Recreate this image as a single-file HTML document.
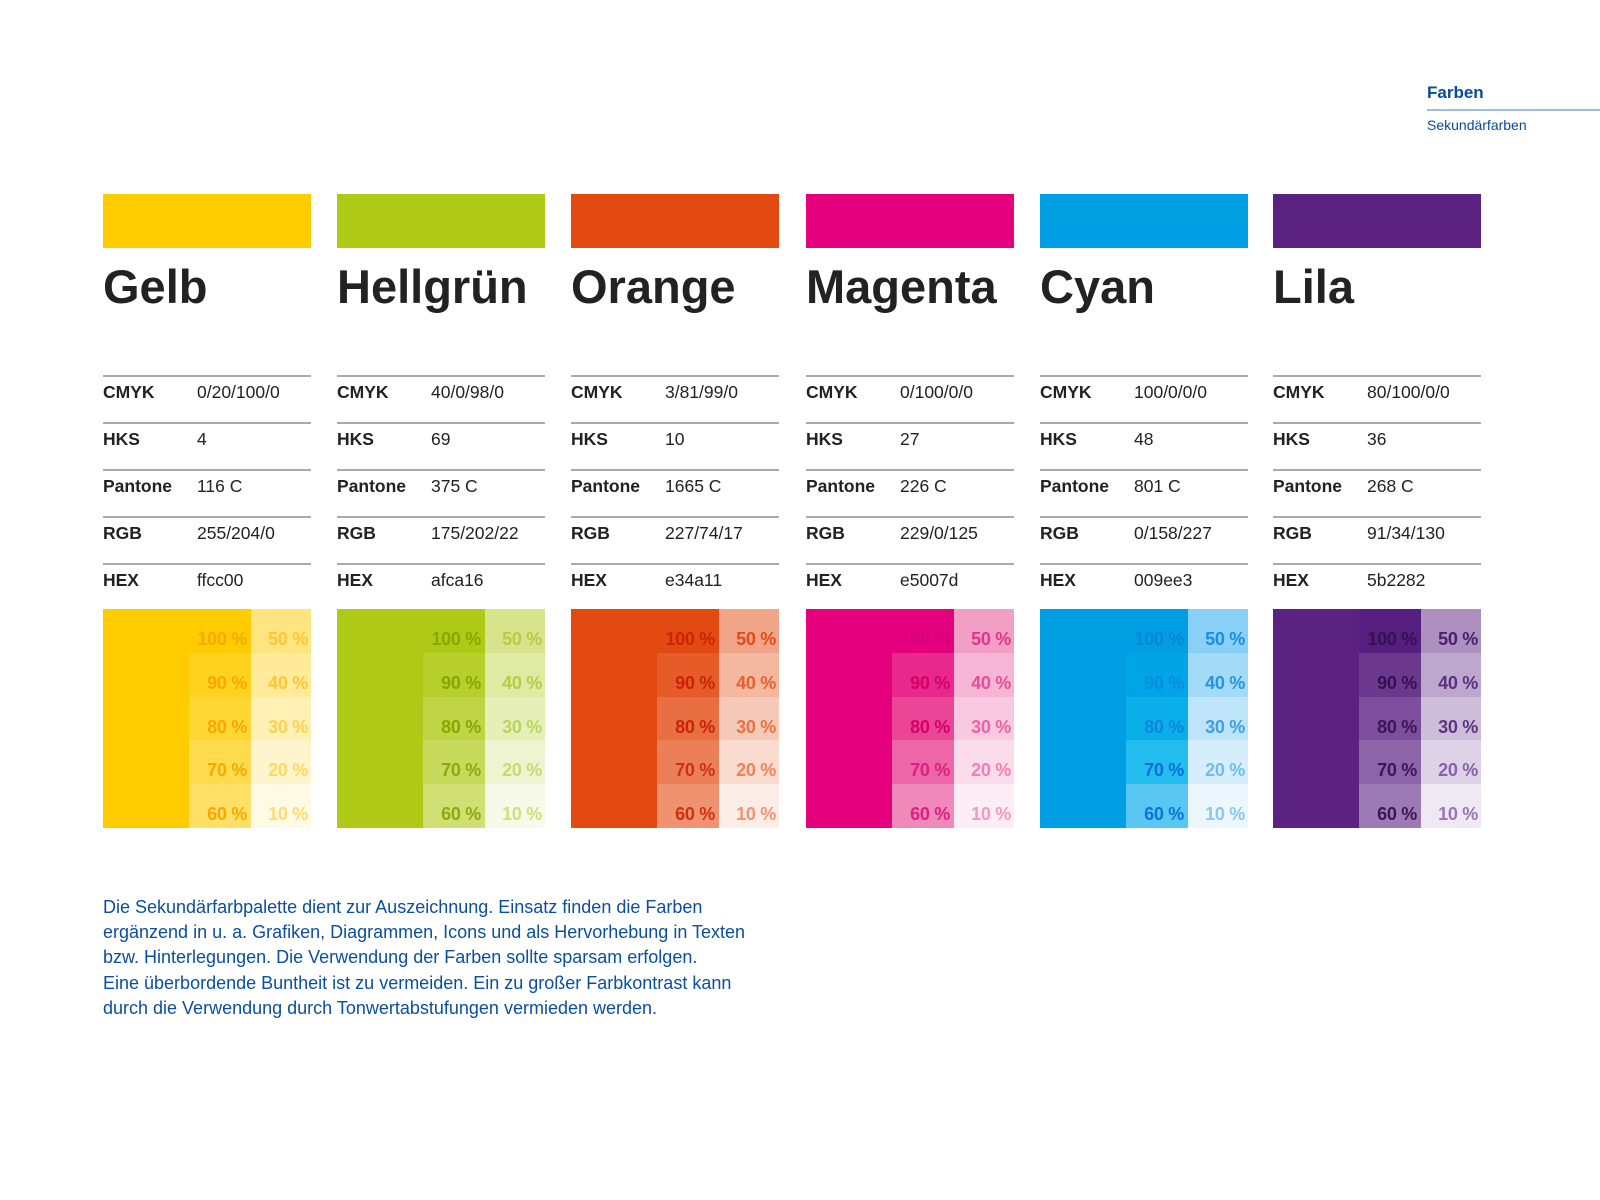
<!DOCTYPE html>
<html><head><meta charset="utf-8">
<style>
*{margin:0;padding:0;box-sizing:border-box}
html,body{width:1600px;height:1200px;background:#fff;overflow:hidden;font-family:"Liberation Sans",sans-serif}
.hdr1{position:absolute;left:1427px;top:83px;font-size:17px;font-weight:bold;color:#0a4a9a}
.hline{position:absolute;left:1427px;top:109px;width:173px;height:2px;background:#9fbde0}
.hdr2{position:absolute;left:1427px;top:117px;font-size:14px;color:#0a4a9a}
.col{position:absolute;top:0;width:208px}
.bar{position:absolute;top:194px;left:0;width:208px;height:54px}
.title{position:absolute;top:262px;left:0;font-size:47px;line-height:50px;font-weight:bold;color:#222;white-space:nowrap}
.tbl{position:absolute;top:375px;left:0;width:208px}
.row{border-top:2px solid #aaa;height:47px;font-size:17.5px;line-height:30px;color:#222;position:relative}
.row b{position:absolute;left:0}
.row span{position:absolute;left:94px}
.sw{position:absolute;top:609px;left:0;width:208px;height:219px}
.a{position:absolute;left:0;top:0;width:86px;height:219px}
.c{position:absolute;height:43.8px;font-size:18px;font-weight:bold;text-align:right;padding-right:4px;line-height:43.8px;padding-top:9px;letter-spacing:-0.3px;overflow:visible}
.b{left:86px;width:62px}
.d{left:148px;width:60px;padding-right:3px}
.para{position:absolute;left:103px;top:895px;font-size:18px;line-height:25.2px;color:#0a4fa0}
</style></head><body>
<div class="hdr1">Farben</div><div class="hline"></div><div class="hdr2">Sekundärfarben</div>

<!-- Gelb -->
<div class="col" style="left:103px">
<div class="bar" style="background:#ffcc00"></div>
<div class="title">Gelb</div>
<div class="tbl">
<div class="row"><b>CMYK</b><span>0/20/100/0</span></div>
<div class="row"><b>HKS</b><span>4</span></div>
<div class="row"><b>Pantone</b><span>116 C</span></div>
<div class="row"><b>RGB</b><span>255/204/0</span></div>
<div class="row"><b>HEX</b><span>ffcc00</span></div>
</div>
<div class="sw">
<div class="a" style="background:#ffcc00"></div>
<div class="c b" style="top:0;background:#ffcc00;color:#f9a800">100 %</div>
<div class="c b" style="top:43.8px;background:#ffd21f;color:#f9a800">90 %</div>
<div class="c b" style="top:87.6px;background:#ffd633;color:#f9a800">80 %</div>
<div class="c b" style="top:131.4px;background:#ffdb4d;color:#f9a800">70 %</div>
<div class="c b" style="top:175.2px;background:#ffe066;color:#f9a800">60 %</div>
<div class="c d" style="top:0;background:#ffe580;color:#ffc535">50 %</div>
<div class="c d" style="top:43.8px;background:#ffeb99;color:#ffc535">40 %</div>
<div class="c d" style="top:87.6px;background:#fff0b3;color:#ffd050">30 %</div>
<div class="c d" style="top:131.4px;background:#fff5cc;color:#ffd860">20 %</div>
<div class="c d" style="top:175.2px;background:#fffae6;color:#ffdc70">10 %</div>
</div></div>

<!-- Hellgrün -->
<div class="col" style="left:337px">
<div class="bar" style="background:#afca16"></div>
<div class="title">Hellgrün</div>
<div class="tbl">
<div class="row"><b>CMYK</b><span>40/0/98/0</span></div>
<div class="row"><b>HKS</b><span>69</span></div>
<div class="row"><b>Pantone</b><span>375 C</span></div>
<div class="row"><b>RGB</b><span>175/202/22</span></div>
<div class="row"><b>HEX</b><span>afca16</span></div>
</div>
<div class="sw">
<div class="a" style="background:#afca16"></div>
<div class="c b" style="top:0;background:#afca16;color:#86a800">100 %</div>
<div class="c b" style="top:43.8px;background:#b7cf2d;color:#86a800">90 %</div>
<div class="c b" style="top:87.6px;background:#bfd545;color:#86a800">80 %</div>
<div class="c b" style="top:131.4px;background:#c7da5c;color:#8aaa10">70 %</div>
<div class="c b" style="top:175.2px;background:#cfdf73;color:#8aaa10">60 %</div>
<div class="c d" style="top:0;background:#d7e48b;color:#b5cc45">50 %</div>
<div class="c d" style="top:43.8px;background:#dfeaa2;color:#b5cc45">40 %</div>
<div class="c d" style="top:87.6px;background:#e7efb9;color:#bdd45a">30 %</div>
<div class="c d" style="top:131.4px;background:#eff4d0;color:#c5da70">20 %</div>
<div class="c d" style="top:175.2px;background:#f7fae8;color:#cde080">10 %</div>
</div></div>

<!-- Orange -->
<div class="col" style="left:571px">
<div class="bar" style="background:#e34a11"></div>
<div class="title">Orange</div>
<div class="tbl">
<div class="row"><b>CMYK</b><span>3/81/99/0</span></div>
<div class="row"><b>HKS</b><span>10</span></div>
<div class="row"><b>Pantone</b><span>1665 C</span></div>
<div class="row"><b>RGB</b><span>227/74/17</span></div>
<div class="row"><b>HEX</b><span>e34a11</span></div>
</div>
<div class="sw">
<div class="a" style="background:#e34a11"></div>
<div class="c b" style="top:0;background:#e34a11;color:#cc2208">100 %</div>
<div class="c b" style="top:43.8px;background:#e65c29;color:#cc2208">90 %</div>
<div class="c b" style="top:87.6px;background:#e96e41;color:#cc2208">80 %</div>
<div class="c b" style="top:131.4px;background:#eb8058;color:#d03010">70 %</div>
<div class="c b" style="top:175.2px;background:#ee9270;color:#d03010">60 %</div>
<div class="c d" style="top:0;background:#f1a588;color:#e24a18">50 %</div>
<div class="c d" style="top:43.8px;background:#f4b7a0;color:#e8602e">40 %</div>
<div class="c d" style="top:87.6px;background:#f7c9b8;color:#ec7040">30 %</div>
<div class="c d" style="top:131.4px;background:#f9dbcf;color:#ef8458">20 %</div>
<div class="c d" style="top:175.2px;background:#fcede7;color:#f29470">10 %</div>
</div></div>

<!-- Magenta -->
<div class="col" style="left:806px">
<div class="bar" style="background:#e5007d"></div>
<div class="title">Magenta</div>
<div class="tbl">
<div class="row"><b>CMYK</b><span>0/100/0/0</span></div>
<div class="row"><b>HKS</b><span>27</span></div>
<div class="row"><b>Pantone</b><span>226 C</span></div>
<div class="row"><b>RGB</b><span>229/0/125</span></div>
<div class="row"><b>HEX</b><span>e5007d</span></div>
</div>
<div class="sw">
<div class="a" style="background:#e5007d"></div>
<div class="c b" style="top:0;background:#e5007d;color:#d8007a">100 %</div>
<div class="c b" style="top:43.8px;background:#e8298b;color:#d5006a">90 %</div>
<div class="c b" style="top:87.6px;background:#ea4597;color:#d5006a">80 %</div>
<div class="c b" style="top:131.4px;background:#ed66a8;color:#dc2080">70 %</div>
<div class="c b" style="top:175.2px;background:#f088ba;color:#dc2080">60 %</div>
<div class="c d" style="top:0;background:#f29fc6;color:#e2348c">50 %</div>
<div class="c d" style="top:43.8px;background:#f5b5d4;color:#e84d9a">40 %</div>
<div class="c d" style="top:87.6px;background:#f8c9e0;color:#ec62a6">30 %</div>
<div class="c d" style="top:131.4px;background:#fbdcea;color:#f080b5">20 %</div>
<div class="c d" style="top:175.2px;background:#fdedf4;color:#f298c2">10 %</div>
</div></div>

<!-- Cyan -->
<div class="col" style="left:1040px">
<div class="bar" style="background:#009ee3"></div>
<div class="title">Cyan</div>
<div class="tbl">
<div class="row"><b>CMYK</b><span>100/0/0/0</span></div>
<div class="row"><b>HKS</b><span>48</span></div>
<div class="row"><b>Pantone</b><span>801 C</span></div>
<div class="row"><b>RGB</b><span>0/158/227</span></div>
<div class="row"><b>HEX</b><span>009ee3</span></div>
</div>
<div class="sw">
<div class="a" style="background:#009ee3"></div>
<div class="c b" style="top:0;background:#009ee3;color:#0585d5">100 %</div>
<div class="c b" style="top:43.8px;background:#00a5e6;color:#0a8ae0">90 %</div>
<div class="c b" style="top:87.6px;background:#0aafe9;color:#0a88e0">80 %</div>
<div class="c b" style="top:131.4px;background:#22bcef;color:#0870d8">70 %</div>
<div class="c b" style="top:175.2px;background:#5ac6f2;color:#0875d8">60 %</div>
<div class="c d" style="top:0;background:#88d0f5;color:#1890e0">50 %</div>
<div class="c d" style="top:43.8px;background:#a3dbf7;color:#2595e2">40 %</div>
<div class="c d" style="top:87.6px;background:#bde4f9;color:#3aa0e8">30 %</div>
<div class="c d" style="top:131.4px;background:#d6eefb;color:#70bcef">20 %</div>
<div class="c d" style="top:175.2px;background:#ebf6fd;color:#88c8f2">10 %</div>
</div></div>

<!-- Lila -->
<div class="col" style="left:1273px">
<div class="bar" style="background:#5b2282"></div>
<div class="title">Lila</div>
<div class="tbl">
<div class="row"><b>CMYK</b><span>80/100/0/0</span></div>
<div class="row"><b>HKS</b><span>36</span></div>
<div class="row"><b>Pantone</b><span>268 C</span></div>
<div class="row"><b>RGB</b><span>91/34/130</span></div>
<div class="row"><b>HEX</b><span>5b2282</span></div>
</div>
<div class="sw">
<div class="a" style="background:#5b2282"></div>
<div class="c b" style="top:0;background:#561e7e;color:#35104f">100 %</div>
<div class="c b" style="top:43.8px;background:#6b388e;color:#35104f">90 %</div>
<div class="c b" style="top:87.6px;background:#7c4e9b;color:#3a1558">80 %</div>
<div class="c b" style="top:131.4px;background:#8c64a8;color:#3a1558">70 %</div>
<div class="c b" style="top:175.2px;background:#9c7ab4;color:#3a1558">60 %</div>
<div class="c d" style="top:0;background:#ad90c0;color:#4a2070">50 %</div>
<div class="c d" style="top:43.8px;background:#bda7cd;color:#5a3080">40 %</div>
<div class="c d" style="top:87.6px;background:#cebdd9;color:#5e3384">30 %</div>
<div class="c d" style="top:131.4px;background:#ded3e6;color:#8a60ac">20 %</div>
<div class="c d" style="top:175.2px;background:#efe9f3;color:#9a75b8">10 %</div>
</div></div>

<div class="para">Die Sekundärfarbpalette dient zur Auszeichnung. Einsatz finden die Farben<br>ergänzend in u. a. Grafiken, Diagrammen, Icons und als Hervorhebung in Texten<br>bzw. Hinterlegungen. Die Verwendung der Farben sollte sparsam erfolgen.<br>Eine überbordende Buntheit ist zu vermeiden. Ein zu großer Farbkontrast kann<br>durch die Verwendung durch Tonwertabstufungen vermieden werden.</div>
</body></html>
